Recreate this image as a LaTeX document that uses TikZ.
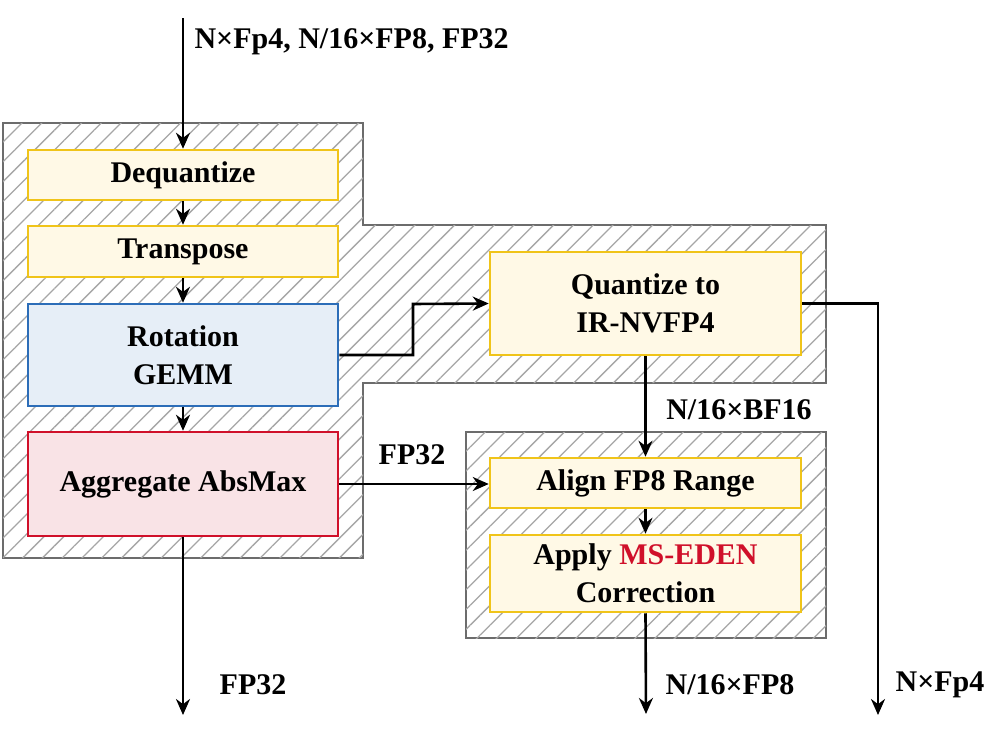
\documentclass[tikz,border=0pt]{standalone}
\usepackage{fontspec}
\setmainfont{Liberation Serif}
\usetikzlibrary{patterns.meta,arrows.meta}
\definecolor{yfill}{HTML}{FFF9E6}\definecolor{ybord}{HTML}{F0C419}
\definecolor{bfill}{HTML}{E6EEF7}\definecolor{bbord}{HTML}{2C6DB8}
\definecolor{rfill}{HTML}{F9E3E6}\definecolor{rbord}{HTML}{D0102A}
\definecolor{msred}{HTML}{D0102A}
\begin{document}
\begin{tikzpicture}[x=1pt,y=-1pt,
 hatch/.style={draw=gray!85!black,line width=2.5pt,fill=white,postaction={pattern={Lines[angle=45,distance=14pt,line width=1.3pt]},pattern color=gray!70}},
 box/.style={draw,line width=2.5pt,align=center,font=\fontsize{30}{38}\selectfont\bfseries},
 ybox/.style={box,fill=yfill,draw=ybord},
 lab/.style={font=\fontsize{30}{34}\selectfont\bfseries},
 arr/.style={-{Stealth[length=16pt,width=14pt]},line width=2.6pt}]
\useasboundingbox (0,0) rectangle (997,739);
\draw[hatch] (3,123)--(363,123)--(363,225)--(826,225)--(826,383)--(363,383)--(363,558)--(3,558)--cycle;
\draw[hatch] (466,432) rectangle (826,638);
\node[ybox,minimum width=310pt,minimum height=50pt] (deq) at (183,175) {Dequantize};
\node[ybox,minimum width=310pt,minimum height=51pt] (tr) at (183,251.5) {Transpose};
\node[box,fill=bfill,draw=bbord,minimum width=310pt,minimum height=102pt] (rot) at (183,355) {Rotation\\GEMM};
\node[box,fill=rfill,draw=rbord,minimum width=310pt,minimum height=104pt] (agg) at (183,484) {Aggregate AbsMax};
\node[ybox,minimum width=311pt,minimum height=103pt] (q) at (645.5,303.5) {Quantize to\\IR-NVFP4};
\node[ybox,minimum width=311pt,minimum height=50pt] (al) at (645.5,483) {Align FP8 Range};
\node[ybox,minimum width=311pt,minimum height=77pt] (ap) at (645.5,573.5) {Apply \textcolor{msred}{MS-EDEN}\\Correction};
\coordinate (in) at (183,18);
\coordinate (o1) at (183,715);
\coordinate (o2) at (646,714);
\coordinate (o3) at (878,715);
\draw[arr] (in)--(deq);
\draw[arr] (deq)--(tr);
\draw[arr] (tr)--(rot);
\draw[arr] (rot)--(agg);
\draw[arr] (rot.east)--(413,355)--(413,304)--(q.west);
\draw[arr] (q.east)--(878,303.5)--(o3);
\draw[arr] (q.south-|al.north)--(al.north);
\draw[arr] (agg.east)--(agg.east-|al.west);
\draw[arr] (al)--(ap);
\draw[arr] (ap.south)--(o2);
\draw[arr] (agg.south)--(o1);
\node[lab,anchor=west] (l0) at (191,42) {N×Fp4, N/16×FP8, FP32};
\node[lab,fill=white,inner sep=1pt] (l1) at (739,410) {N/16×BF16};
\node[lab] (l2) at (412,455) {FP32};
\node[lab] (l3) at (253,685) {FP32};
\node[lab] (l4) at (730,685) {N/16×FP8};
\node[lab] (l5) at (940,685) {N×Fp4};
\end{tikzpicture}
\end{document}
